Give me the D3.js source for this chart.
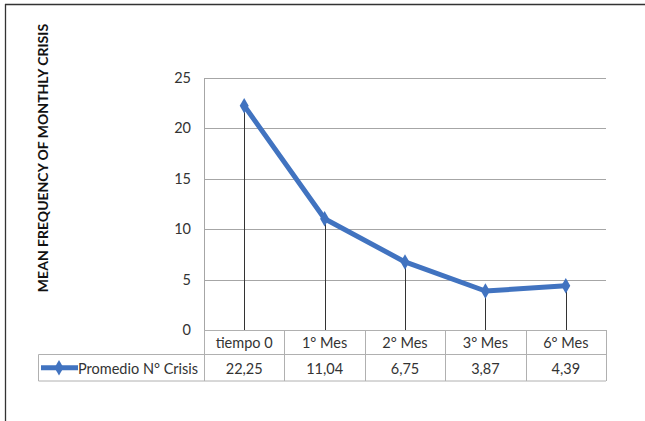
<!DOCTYPE html>
<html><head><meta charset="utf-8">
<script src="https://cdn.jsdelivr.net/npm/d3@7"></script>
<style>body{margin:0;background:#fff}svg{display:block}</style>
</head><body>
<script>
const categories = ["tiempo 0", "1° Mes", "2° Mes", "3° Mes", "6° Mes"];
const values = [22.25, 11.04, 6.75, 3.87, 4.39];
const valueLabels = ["22,25", "11,04", "6,75", "3,87", "4,39"];
const yTicks = [0, 5, 10, 15, 20, 25];
const seriesName = "Promedio N° Crisis";
const yTitle = "MEAN FREQUENCY OF MONTHLY CRISIS";

(function(){
const W = 645, H = 421;
const svg = d3.select("body").append("svg").attr("width", W).attr("height", H);
const font = "Lato, 'Open Sans', sans-serif";
const blue = "#4173C0";
const fs = 14.5;

// frame
svg.append("line").attr("x1",5).attr("x2",W).attr("y1",4.5).attr("y2",4.5).attr("stroke","#333").attr("stroke-width",1.3);
svg.append("line").attr("x1",5.5).attr("x2",5.5).attr("y1",4).attr("y2",H).attr("stroke","#333").attr("stroke-width",1.3);

const pLeft = 204, pRight = 606, pTop = 78, pBottom = 330;
const x = d3.scaleBand().domain(categories).range([pLeft, pRight]);
const y = d3.scaleLinear().domain([0, 25]).range([pBottom, pTop]);

// gridlines
svg.append("g").selectAll("line").data(yTicks).join("line")
  .attr("x1", pLeft).attr("x2", pRight)
  .attr("y1", d => Math.round(y(d)) + 0.5).attr("y2", d => Math.round(y(d)) + 0.5)
  .attr("stroke", "#a6a6a6").attr("stroke-width", 1);
svg.append("line").attr("x1", pLeft+0.5).attr("x2", pLeft+0.5).attr("y1", pTop).attr("y2", pBottom).attr("stroke","#a6a6a6");

// y tick labels
svg.append("g").selectAll("text").data(yTicks).join("text")
  .attr("x", 191).attr("y", d => y(d)).attr("dy", "0.35em")
  .attr("text-anchor", "end").attr("font-family", font).attr("font-size", fs).attr("fill", "#333")
  .text(d => d);

// y title
svg.append("text").attr("transform", "translate(48,158) rotate(-90)")
  .attr("text-anchor", "middle").attr("font-family", font).attr("font-weight", "bold")
  .attr("font-size", 14).attr("fill", "#111").text(yTitle);

const cx = d => x(d) + x.bandwidth() / 2;

// drop lines
svg.append("g").selectAll("line").data(categories).join("line")
  .attr("x1", d => Math.round(cx(d)) + 0.5).attr("x2", d => Math.round(cx(d)) + 0.5)
  .attr("y1", (d, i) => y(values[i])).attr("y2", pBottom)
  .attr("stroke", "#333").attr("stroke-width", 1);

// line
const pts = categories.map((c, i) => [cx(c), y(values[i])]);
svg.append("path").attr("d", d3.line()(pts)).attr("fill", "none")
  .attr("stroke", blue).attr("stroke-width", 5).attr("stroke-linejoin", "round");
const diamond = d3.symbol().type(d3.symbolDiamond).size(70);
svg.append("g").selectAll("path").data(pts).join("path")
  .attr("transform", d => `translate(${d[0]},${d[1]})`).attr("d", diamond()).attr("fill", blue);

// table
const r1 = 330, r2 = 354.5, r3 = 381, tl = 38.5;
const tg = svg.append("g").attr("stroke", "#b0b0b0").attr("stroke-width", 1).attr("fill", "none");
tg.append("line").attr("x1", pLeft).attr("x2", pRight).attr("y1", r1+0.5).attr("y2", r1+0.5);
tg.append("line").attr("x1", tl).attr("x2", pRight).attr("y1", r2).attr("y2", r2);
tg.append("line").attr("x1", tl).attr("x2", pRight).attr("y1", r3).attr("y2", r3);
tg.append("line").attr("x1", tl).attr("x2", tl).attr("y1", r2).attr("y2", r3);
const edges = categories.map(c => x(c)).concat([pRight]);
tg.selectAll("line.v").data(edges).join("line").attr("class","v")
  .attr("x1", d => Math.round(d)+0.5).attr("x2", d => Math.round(d)+0.5).attr("y1", r1).attr("y2", r3);

svg.append("g").selectAll("text").data(categories).join("text")
  .attr("x", d => cx(d)).attr("y", (r1 + r2) / 2 + 1).attr("dy", "0.35em")
  .attr("text-anchor", "middle").attr("font-family", font).attr("font-size", fs).attr("fill", "#333")
  .text(d => d);
svg.append("g").selectAll("text").data(valueLabels).join("text")
  .attr("x", (d, i) => cx(categories[i])).attr("y", (r2 + r3) / 2 + 1).attr("dy", "0.35em")
  .attr("text-anchor", "middle").attr("font-family", font).attr("font-size", fs).attr("fill", "#333")
  .text(d => d);

// legend key
const ly = (r2 + r3) / 2;
svg.append("line").attr("x1", 41).attr("x2", 78).attr("y1", ly).attr("y2", ly).attr("stroke", blue).attr("stroke-width", 5);
svg.append("path").attr("transform", `translate(59,${ly})`).attr("d", diamond()).attr("fill", blue);
svg.append("text").attr("x", 78).attr("y", ly + 1).attr("dy", "0.35em")
  .attr("font-family", font).attr("font-size", fs).attr("fill", "#333").text(seriesName);
})();
</script>
</body></html>
